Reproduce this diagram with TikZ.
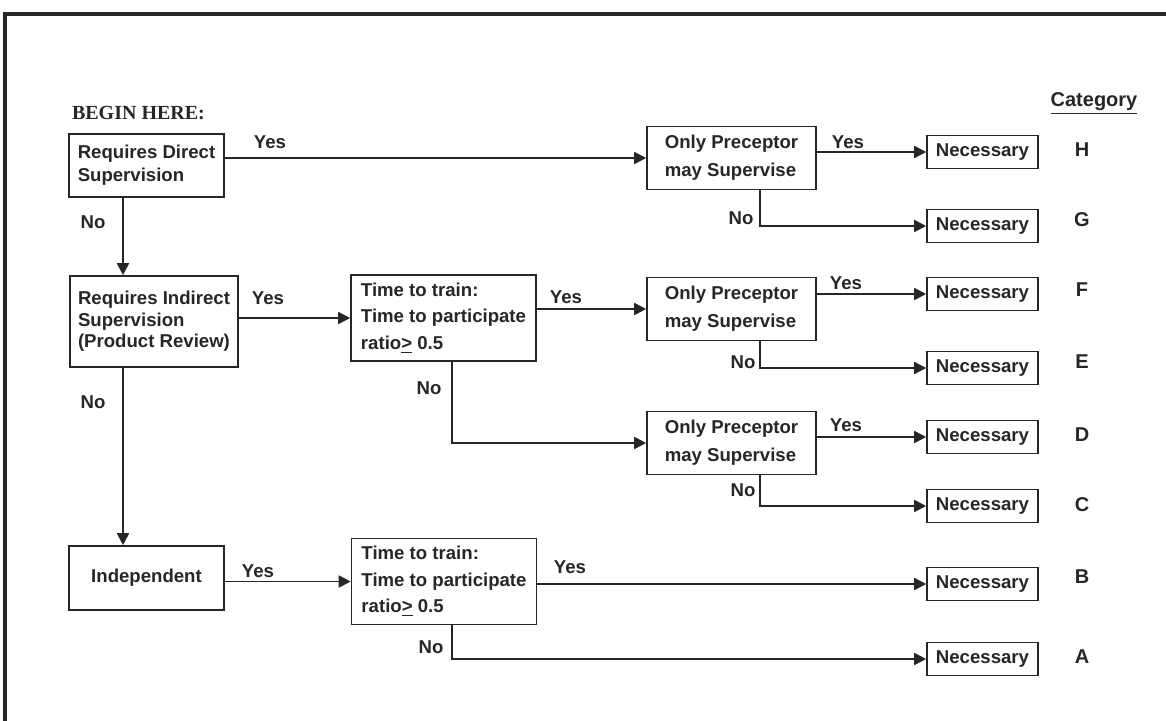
\documentclass[tikz,border=0pt]{standalone}
\usepackage{fontspec}
\setmainfont{Liberation Sans}
\newfontfamily\headfont{Liberation Serif}
\usetikzlibrary{positioning,arrows.meta}
\definecolor{ink}{HTML}{262626}
\tikzset{
  box/.style={draw=ink,line width=0.8pt,align=left,text=ink,inner sep=2pt,font=\fontsize{9.3}{11.5}\selectfont\bfseries},
  dec/.style={box,minimum width=77.5pt,minimum height=31.5pt},
  tt/.style={box,minimum width=92.5pt,minimum height=43pt,font=\fontsize{9.3}{13.2}\selectfont\bfseries},
  op/.style={box,minimum width=84.5pt,minimum height=31.5pt,font=\fontsize{9.3}{14}\selectfont\bfseries},
  nec/.style={box,minimum width=55.5pt,minimum height=16.5pt},
  arr/.style={-{Triangle[length=6pt,width=6pt]},line width=0.9pt,draw=ink},
  lab/.style={font=\fontsize{9.3}{11}\selectfont\bfseries,text=ink,inner sep=1pt},
  cat/.style={font=\fontsize{10}{12}\selectfont\bfseries,text=ink},
}
\begin{document}
\begin{tikzpicture}[x=0.5pt,y=-0.5pt]
\useasboundingbox (0,0) rectangle (1166,721);
% frame
\draw[line width=1.6pt,draw=ink] (1166,14) -- (5,14) -- (5,721);
\node[anchor=west,text=ink,font=\headfont\fontsize{10}{12}\selectfont\bfseries] (begin) at (65,113) {BEGIN HERE:};
\node[cat] (cathead) at (1094,104) {\underline{Category}};
% columns for the drops
\coordinate (colL) at (123,0);
\coordinate (colT) at (452,0);
\coordinate (colP) at (760,0);
% left lane
\node[dec] (rd) at (146.5,165.5) {Requires Direct\\Supervision};
\node[dec,minimum width=84pt,minimum height=45.5pt,font=\fontsize{9.3}{10.8}\selectfont\bfseries] (ri) at (154,321.5) {Requires Indirect\\Supervision\\(Product Review)};
\node[dec,align=center,minimum height=32pt] (ind) at (146.5,578) {Independent};
% ratio tests
\node[tt] (tt1) at (443.5,318) {Time to train:\\Time to participate\\ratio\underline{>} 0.5};
\node[tt] (tt2) at (444,581.5) {Time to train:\\Time to participate\\ratio\underline{>} 0.5};
% preceptor tests
\node[op] (op1) at (731.5,158) {Only Preceptor\\may Supervise};
\node[op] (op2) at (731.5,309) {Only Preceptor\\may Supervise};
\node[op] (op3) at (731.5,443) {Only Preceptor\\may Supervise};
% outcomes
\node[nec] (nH) at (982.5,152) {Necessary};
\node[nec] (nG) at (982.5,226) {Necessary};
\node[nec] (nF) at (982.5,294) {Necessary};
\node[nec] (nE) at (982.5,368) {Necessary};
\node[nec] (nD) at (982.5,437) {Necessary};
\node[nec] (nC) at (982.5,506) {Necessary};
\node[nec] (nB) at (982.5,584) {Necessary};
\node[nec] (nA) at (982.5,659) {Necessary};
\foreach \c/\y in {H/150,G/220,F/290,E/362,D/435,C/505,B/577,A/657}
  \node[cat] (cat\c) at (1082,\y) {\c};
% connectors
\draw[arr] (rd.east |- op1.west) -- (op1.west);
\draw[arr] (rd.south -| colL) -- (ri.north -| colL);
\draw[arr] (ri.south -| colL) -- (ind.north -| colL);
\draw[arr] (ri.east |- tt1.west) -- (tt1.west);
\draw[arr] (tt1.east |- op2.west) -- (op2.west);
\draw[arr] (tt1.south -| colT) |- (op3.west);
\draw[arr] (ind.east |- tt2.west) -- (tt2.west);
\draw[arr] (tt2.east |- nB.west) -- (nB.west);
\draw[arr] (tt2.south -| colT) |- (nA.west);
\draw[arr] (op1.east |- nH.west) -- (nH.west);
\draw[arr] (op1.south -| colP) |- (nG.west);
\draw[arr] (op2.east |- nF.west) -- (nF.west);
\draw[arr] (op2.south -| colP) |- (nE.west);
\draw[arr] (op3.east |- nD.west) -- (nD.west);
\draw[arr] (op3.south -| colP) |- (nC.west);
% branch labels
\node[lab] (y1) at (270,142) {Yes};
\node[lab] (n1) at (93,222) {No};
\node[lab] (y2) at (848,142) {Yes};
\node[lab] (n2) at (741,218) {No};
\node[lab] (y3) at (268,298) {Yes};
\node[lab] (n3) at (93,402) {No};
\node[lab] (y4) at (566,297) {Yes};
\node[lab] (n4) at (429,388) {No};
\node[lab] (y5) at (846,283) {Yes};
\node[lab] (n5) at (743,362) {No};
\node[lab] (y6) at (846,425) {Yes};
\node[lab] (n6) at (743,490) {No};
\node[lab] (y7) at (258,571) {Yes};
\node[lab] (y8) at (570,567) {Yes};
\node[lab] (n7) at (431,647) {No};
\end{tikzpicture}
\end{document}
